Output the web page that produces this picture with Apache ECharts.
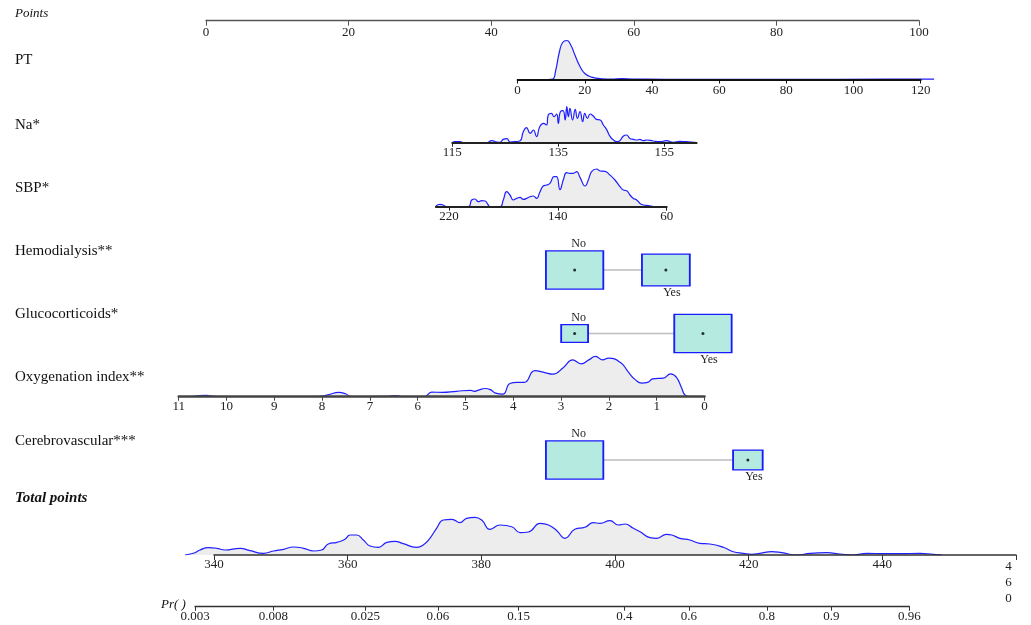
<!DOCTYPE html>
<html><head><meta charset="utf-8">
<script src="https://cdn.jsdelivr.net/npm/echarts@6/dist/echarts.min.js"></script>
<style>html,body{margin:0;padding:0;background:#fff}#c{width:1031px;height:625px}</style>
</head><body><div id="c"></div>
<script>
// ---------------- data ----------------
const rowLabels = ['Points','PT','Na*','SBP*','Hemodialysis**','Glucocorticoids*','Oxygenation index**','Cerebrovascular***','Total points','Pr( )'];

const pointsTicks = [0,20,40,60,80,100];
const ptTicks = [0,20,40,60,80,100,120];
const naTicks = [115,135,155];
const sbpTicks = [220,140,60];
const oxTicks = [0,1,2,3,4,5,6,7,8,9,10,11];
const totalTicks = [340,360,380,400,420,440,460];
const prTicks = [0.003,0.008,0.025,0.06,0.15,0.4,0.6,0.8,0.9,0.96];

const ptValue   = [0, 5, 9, 10.4, 11.4, 12.4, 13.4, 14.7, 15.9, 17.0, 18.5, 20, 22, 25, 28, 31, 34, 38, 50, 80, 110, 124];
const ptDensity = [0, 0, 0, 0.3, 10, 27, 37, 39, 34, 25, 13.5, 6, 2.4, 0.7, 0.4, 0.8, 0.5, 0.3, 0.2, 0.2, 0.3, 0.3];

const naValue = [115,115.5,116.5,117.1,121.5,122.4,123.4,124.0,124.6,125.3,125.9,126.8,127.8,128.4,129.0,129.7,130.3,130.9,131.5,132.2,132.8,133.1,133.7,134.2,134.7,135.0,135.4,135.9,136.3,136.6,136.9,137.2,137.7,138.2,138.6,139.1,139.6,140.0,140.5,141.0,141.6,142.2,142.9,143.5,144.1,144.8,145.4,146.0,146.6,147.3,147.9,148.5,149.2,149.8,150.4,151.0,151.7,152.9,154.2,155.4,156.7,157.9,159.2,160.1,161.1];
const naDensity = [0,1,1,0,0,2,0.7,0.3,3.3,4,0.7,1,2,11,15,9.3,12.7,6,16,19.3,17.7,27.7,29.3,26,28.7,19.3,31,32,22.7,36,26,34.3,22.7,33.3,24.3,31,21,29.3,24.3,28.7,26.7,23.3,22.7,17.7,13.3,6,2.7,1,2,6.7,7.7,4.3,3.3,2.7,3.3,2,2.7,1.7,1,2,0.3,1.3,1,0.7,0];

const sbpValue = [229.6,226.6,224.2,221.7,205.8,203.3,200.9,198.4,196.0,193.5,191.1,189.9,182.5,180.1,177.6,175.2,172.7,170.3,167.8,165.4,162.9,160.5,158.0,155.6,153.1,150.7,148.2,145.8,142.8,140.9,138.4,136.0,133.5,131.1,128.6,126.2,123.7,120.0,117.6,115.2,111.5,109.0,105.4,101.7,98.0,94.3,91.9,89.4,87.0,84.5,82.1,79.6,77.2,73.5,69.8];
const sbpDensity = [0.7,2.3,1.7,0,0,6.7,7.7,5,6,5.7,1.7,0,0,6.7,15,11.7,6.7,8.3,9.3,7.3,8.3,10,10.7,8.3,15,20.7,21.7,23.3,30,30,17,26.7,34,33.3,33.3,35,29.3,20.7,26.7,35,37.7,35.7,35.3,31.7,26.7,20,16.7,16,11.7,8.3,6.7,3.3,1.7,1,0];

const oxValue = [10.72,10.57,10.42,10.27,10.12,8.10,7.88,7.65,7.51,7.39,6.61,6.46,6.31,5.86,5.71,5.49,5.19,4.89,4.82,4.74,4.59,4.48,4.37,4.22,4.07,3.92,3.77,3.55,3.36,3.17,2.95,2.76,2.58,2.42,2.28,2.13,2.01,1.75,1.60,1.45,1.31,1.19,1.08,0.86,0.71,0.59,0.48,0.41,0.30];
const oxDensity = [0,1.1,1.4,0.4,0,0,1.8,4.3,2.9,0,0.4,1.1,0,0,4.6,4.3,5.4,6.4,5.4,6.4,8.2,7.1,3.6,2.5,13.2,14.3,14.3,26.1,24.3,22.5,29.3,36.8,32.9,36.8,40.4,36.8,38.6,33.9,25,17.1,13.6,14.3,17.9,18.6,22.9,19.6,8.9,1.8,0];

const totalValue = [335.66,336.9,337.9,339.15,340.4,341.65,343.9,345.4,347.4,348.9,350.4,351.9,353.4,354.9,356.1,357.1,358.4,359.6,360.35,361.35,362.35,363.35,364.6,365.85,367.1,368.3,370.3,371.3,372.3,373.3,374.3,375.6,376.8,377.8,379.05,380.05,381.3,382.8,384.55,385.8,387.05,388.8,390.05,391.3,392.5,394.0,395.5,396.75,397.75,399.25,400.5,401.5,402.75,403.75,405.25,406.25,407.7,408.5,409.7,411.2,412.7,414.2,416.2,417.7,419.2,420.45,421.7,423.45,424.95,427.2,429.2,431.7,433.7,435.7,437.7,440.15,442.65,445.65,447.6,448.9];
const totalDensity = [0,1.7,5,7.3,6.7,5,6.7,4.3,1.7,4,5.7,8,6.7,4,5,11,12.7,15.7,20,20,15,9,7.7,12.7,13.7,11.3,7.7,10,16.7,26.7,35,35.7,32.3,36.7,37.7,35,25.7,30,28.3,22.3,23,31.7,30,24.3,16.7,25.7,27.7,32.3,31.7,34.3,30,31,26.7,23.3,17.3,16.7,20.7,20,16.7,15,11.7,11,7.7,3.3,1.7,0.7,1.7,3.3,2.3,0,1.7,2.3,1,0,1.7,1.3,1.3,1.7,0.7,0];

const catLevels = ['No','Yes'];
const hemoPoints = [51.7, 64.5];   const hemoShare = [0.59, 0.41];   const hemoMarked = [true, true];
const glucoPoints = [51.7, 69.7];  const glucoShare = [0.18, 0.82];  const glucoMarked = [true, true];
const cerePoints = [51.7, 76.0];   const cereShare = [0.79, 0.21];   const cereMarked = [false, true];

// ---------------- layout / style ----------------
const FONT = 'Liberation Serif';
const DH = 45; // density grid height
const BOX_W = 57.4, BOX_H = 38.3;
const zip = (a, b) => a.map((v, i) => [v, b[i]]);
const logit = p => Math.log(p / (1 - p));
const minOf = a => Math.min.apply(null, a), maxOf = a => Math.max.apply(null, a);

const grids = [], xAxes = [], yAxes = [], series = [];

function addGrid(left, right, top, height, xmin, xmax, inverse, ymax) {
  const gi = grids.length;
  grids.push({left: left, top: top, width: right - left, height: height,
    containLabel: false, outerBoundsMode: 'none'});
  xAxes.push({gridIndex: gi, type: 'value', min: xmin, max: xmax, inverse: !!inverse, show: false});
  yAxes.push({gridIndex: gi, type: 'value', min: 0, max: ymax, show: false});
  return gi;
}

function addAxisRow(left, right, axisY, height, xmin, xmax, ticks, opt) {
  opt = opt || {};
  const gi = addGrid(left, right, axisY - height, height, xmin, xmax, opt.inverse, height);
  Object.assign(xAxes[gi], {
    show: true, z: 5,
    axisLine: {show: true, onZero: false, lineStyle: {color: opt.lineColor || '#333', width: opt.lineWidth || 1.5}},
    axisTick: {show: true, length: opt.tickLen || 4, customValues: ticks, lineStyle: {color: opt.lineColor || '#333', width: 1}},
    axisLabel: {show: true, customValues: ticks, margin: opt.margin || 3.5,
      fontFamily: FONT, fontSize: 13, color: '#222', formatter: opt.formatter || (v => String(v)),
      rich: opt.rich, showMinLabel: true, showMaxLabel: true, hideOverlap: false},
    splitLine: {show: false}
  });
  return gi;
}

// density drawn on its own hidden grid that shares the axis scale but spans the whole data extent
function addDensity(left, right, axisY, xmin, xmax, inverse, xs, ys) {
  const k = (right - left) / (xmax - xmin);
  const dmin = Math.min(xmin, minOf(xs)), dmax = Math.max(xmax, maxOf(xs));
  let l, r;
  if (!inverse) { l = left - (xmin - dmin) * k; r = right + (dmax - xmax) * k; }
  else { l = left - (dmax - xmax) * k; r = right + (xmin - dmin) * k; }
  const gi = addGrid(l, r, axisY - DH, DH, dmin, dmax, inverse, DH);
  series.push({type: 'line', xAxisIndex: gi, yAxisIndex: gi, data: zip(xs, ys),
    smooth: 0.5, showSymbol: false, silent: true,
    lineStyle: {color: '#1f1fff', width: 1.2},
    areaStyle: {color: '#ededed', opacity: 1}, z: 2});
}

function densityRow(left, right, axisY, xmin, xmax, ticks, xs, ys, opt) {
  opt = opt || {};
  addDensity(left, right, axisY, xmin, xmax, opt.inverse, xs, ys);
  addAxisRow(left, right, axisY, DH, xmin, xmax, ticks, opt);
}

function addCategorical(rowY, pts, share, marked) {
  const gi = addGrid(206, 919, rowY - 25, 50, 0, 100, false, 1);
  const mx = maxOf(share);
  series.push({type: 'line', xAxisIndex: gi, yAxisIndex: gi, data: pts.map(p => [p, 0.5]),
    showSymbol: false, silent: true, lineStyle: {color: '#bdbdbd', width: 1.5}, z: 1});
  series.push({type: 'scatter', xAxisIndex: gi, yAxisIndex: gi, silent: true, z: 3,
    data: pts.map((p, i) => {
      const s = Math.sqrt(share[i] / mx);
      return {value: [p, 0.5], name: catLevels[i], symbolSize: [BOX_W * s, BOX_H * s],
        label: {show: true, position: i === 0 ? 'top' : 'bottom', distance: 0.5,
          offset: [i === 0 ? 4 : 6, 0], formatter: catLevels[i],
          fontFamily: FONT, fontSize: 12, color: '#222'}};
    }),
    symbol: 'rect',
    itemStyle: {color: '#b4eadf', borderColor: '#1a1aff', borderWidth: 1.5, opacity: 1}});
  series.push({type: 'scatter', xAxisIndex: gi, yAxisIndex: gi, silent: true, z: 4,
    data: pts.filter((p, i) => marked[i]).map(p => [p, 0.5]),
    symbol: 'circle', symbolSize: 3, itemStyle: {color: '#000'}});
}

// Points
addAxisRow(206, 919, 20.7, 20, 0, 100, pointsTicks, {lineColor: '#555', lineWidth: 1.3, tickLen: 5, margin: 5});
// PT
densityRow(517.6, 920.7, 79.5, 0, 120, ptTicks, ptValue, ptDensity, {margin: 5, lineWidth: 2, lineColor: '#111'});
// Na
densityRow(452.3, 696.6, 142.7, 115, 161.1, naTicks, naValue, naDensity, {lineWidth: 2, lineColor: '#222'});
// SBP
densityRow(435.9, 666.7, 206.7, 60, 229.6, sbpTicks, sbpValue, sbpDensity, {inverse: true, lineWidth: 2, lineColor: '#222'});
// categorical
addCategorical(270, hemoPoints, hemoShare, hemoMarked);
addCategorical(333.5, glucoPoints, glucoShare, glucoMarked);
// Oxygenation index
densityRow(178.7, 704.5, 396.7, 0, 11, oxTicks, oxValue, oxDensity, {inverse: true, lineWidth: 2.5, lineColor: '#444'});
addCategorical(460, cerePoints, cereShare, cereMarked);
// Total points
densityRow(214, 1016, 555, 340, 460, totalTicks, totalValue, totalDensity, {tickLen: 5, lineWidth: 1.5, lineColor: '#333',
  formatter: v => v === 460 ? '{s|4\n6\n0}' : String(v),
  rich: {s: {fontFamily: FONT, fontSize: 13, color: '#222', lineHeight: 16, padding: [0, 15, 0, 0]}}});
// Pr axis (logit scale)
const prLogit = prTicks.map(logit);
addAxisRow(195, 909.3, 606.7, 20, prLogit[0], prLogit[prLogit.length - 1], prLogit, {lineColor: '#333', lineWidth: 1.3,
  formatter: v => { let bi = 0; prLogit.forEach((l, i) => { if (Math.abs(l - v) < Math.abs(prLogit[bi] - v)) bi = i; }); return String(prTicks[bi]); }});

// row labels
const labelY = [14, 60, 125, 188, 251, 314, 377, 441, 498, 605];
const graphics = rowLabels.map((t, i) => {
  let font = '15px "' + FONT + '"';
  if (i === 0 || i === 9) font = 'italic 13px "' + FONT + '"';
  if (i === 8) font = 'italic bold 15px "' + FONT + '"';
  return {type: 'text', x: i === 9 ? 161 : 15, y: labelY[i], silent: true,
    style: {text: t, font: font, fill: '#111', verticalAlign: 'middle'}};
});

const chart = echarts.init(document.getElementById('c'), null, {renderer: 'canvas'});
chart.setOption({
  animation: false, backgroundColor: '#fff',
  grid: grids, xAxis: xAxes, yAxis: yAxes, series: series, graphic: graphics
});
</script></body></html>
